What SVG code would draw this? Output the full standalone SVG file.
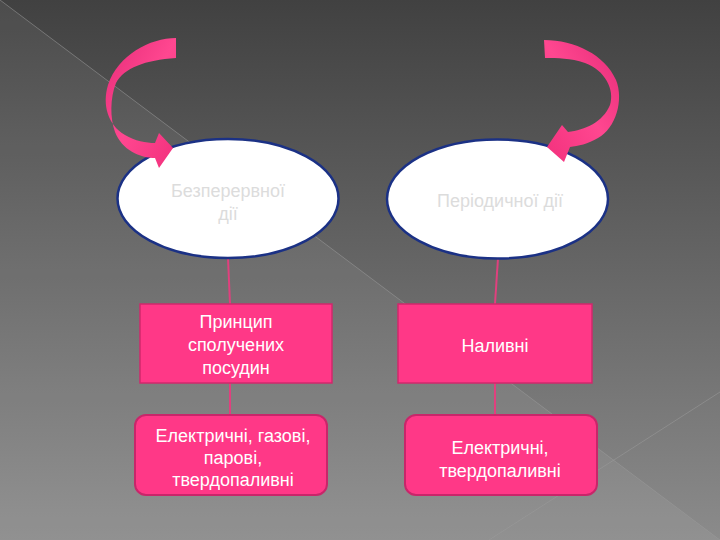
<svg xmlns="http://www.w3.org/2000/svg" width="720" height="540" viewBox="0 0 720 540">
<defs>
<linearGradient id="bg" x1="0" y1="0" x2="0" y2="1">
<stop offset="0" stop-color="#414141"/>
<stop offset="1" stop-color="#8b8b8b"/>
</linearGradient>
<linearGradient id="arrL" x1="0" y1="0" x2="1" y2="1">
<stop offset="0" stop-color="#e62c78"/>
<stop offset="0.5" stop-color="#ff4790"/>
<stop offset="1" stop-color="#f2307c"/>
</linearGradient>
<linearGradient id="arrR" x1="1" y1="0" x2="0" y2="1">
<stop offset="0" stop-color="#e62c78"/>
<stop offset="0.5" stop-color="#ff4790"/>
<stop offset="1" stop-color="#f2307c"/>
</linearGradient>
<style>
.ell{fill:#ffffff;stroke:#1b3185;stroke-width:2.5}
.box{fill:#ff3887;stroke:#d0286c;stroke-width:1.5}
.rbox{fill:#ff3887;stroke:#c8266a;stroke-width:2}
.etxt{font-family:"Liberation Sans",Arial,sans-serif;font-size:18px;fill:#dcdcdc;text-anchor:middle}
.btxt{font-family:"Liberation Sans",Arial,sans-serif;font-size:18px;fill:#ffffff;text-anchor:middle}
.con{stroke:#e0407e;stroke-width:2;fill:none}
.bgl{stroke:#9a9a9a;stroke-opacity:0.55;stroke-width:1;fill:none}
</style>
</defs>
<rect x="0" y="0" width="720" height="540" fill="url(#bg)"/>
<polygon points="0,0 720,540 0,540" fill="#ffffff" fill-opacity="0.06"/>
<line class="bgl" x1="0" y1="0" x2="720" y2="540"/>
<line class="bgl" x1="489" y1="540" x2="720" y2="392"/>

<g id="connectors">
<line class="con" x1="228" y1="258" x2="230" y2="304"/>
<line class="con" x1="230" y1="383" x2="230" y2="415"/>
<line class="con" x1="498" y1="258" x2="495" y2="304"/>
<line class="con" x1="495" y1="383" x2="495" y2="415"/>
</g>

<g id="node-cont">
<ellipse class="ell" cx="228" cy="198.5" rx="110.5" ry="59.5"/>
<text class="etxt" x="228" y="197">Безперервної</text>
<text class="etxt" x="228" y="220">дії</text>
</g>
<g id="node-period">
<ellipse class="ell" cx="497.5" cy="199" rx="110.5" ry="59.5"/>
<text class="etxt" x="500" y="207">Періодичної дії</text>
</g>

<g id="arrow-left">
<path fill="url(#arrL)" d="M176,38 C150,38 118,55 108,85 C102,105 108,125 125,135 C135,141 146,143 155,143 L159,133 L173,148 L159,168 L155,158 C140,158 122,150 115,132 C110,118 110,98 116,83 C124,68 145,60 176,58 Z"/>
</g>
<g id="arrow-right">
<path fill="url(#arrR)" d="M544,40 C575,40 605,55 616,80 C624,100 616,128 598,138 C588,144 578,146 570,147 L564,162 L547,147 L562,125 L568,132 C585,130 603,122 610,105 C615,90 605,70 585,63 C570,58 558,58 545,58 Z"/>
</g>

<g id="node-principle">
<rect class="box" x="140" y="304" width="192" height="79"/>
<text class="btxt" x="236" y="328">Принцип</text>
<text class="btxt" x="236" y="351">сполучених</text>
<text class="btxt" x="236" y="374">посудин</text>
</g>
<g id="node-naliv">
<rect class="box" x="398" y="304" width="194" height="79"/>
<text class="btxt" x="495" y="352">Наливні</text>
</g>
<g id="node-types-left">
<rect class="rbox" x="135" y="415" width="192" height="80" rx="11"/>
<text class="btxt" x="233" y="442">Електричні, газові,</text>
<text class="btxt" x="233" y="464">парові,</text>
<text class="btxt" x="233" y="486">твердопаливні</text>
</g>
<g id="node-types-right">
<rect class="rbox" x="405" y="415" width="192" height="80" rx="11"/>
<text class="btxt" x="500" y="454">Електричні,</text>
<text class="btxt" x="500" y="477">твердопаливні</text>
</g>
</svg>
